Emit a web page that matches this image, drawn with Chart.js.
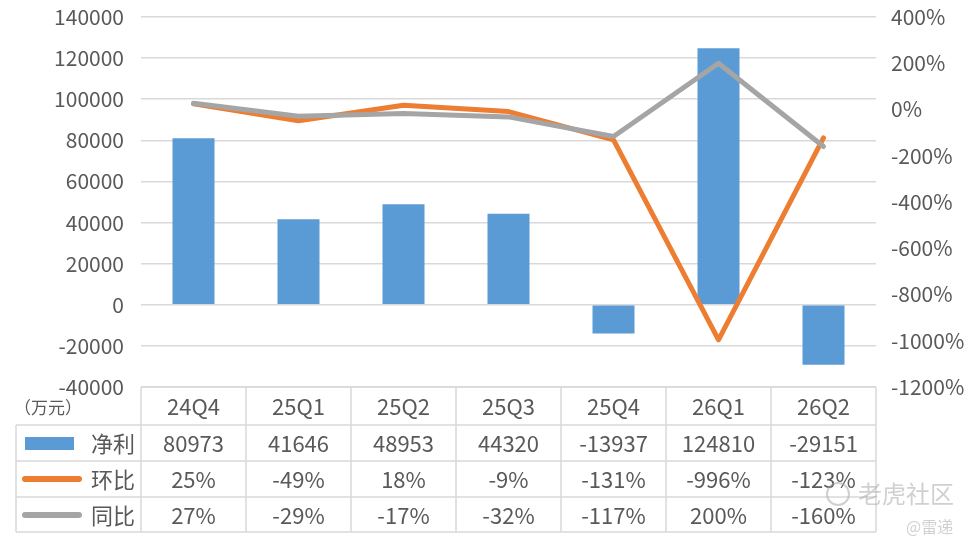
<!DOCTYPE html>
<html>
<head>
<meta charset="utf-8">
<script src="https://cdn.jsdelivr.net/npm/chart.js@4/dist/chart.umd.min.js"></script>
<style>
html,body{margin:0;padding:0;background:#fff;}
#wrap{position:relative;width:974px;height:552px;}
</style>
</head>
<body>
<div id="wrap"><canvas id="c" width="974" height="552"></canvas></div>
<script>
const categories = ['24Q4','25Q1','25Q2','25Q3','25Q4','26Q1','26Q2'];
const netProfit = [80973, 41646, 48953, 44320, -13937, 124810, -29151];
const qoq = [25, -49, 18, -9, -131, -996, -123];
const yoy = [27, -29, -17, -32, -117, 200, -160];
const seriesNames = ['净利', '环比', '同比'];
const unitLabel = '（万元）';
const leftTicks = {min: -40000, max: 140000, step: 20000};
const rightTicks = {min: -1200, max: 400, step: 200};

const FONT = '"Noto Sans CJK SC", "Noto Sans", sans-serif';
const BLUE = '#5B9BD5', ORANGE = '#ED7D31', GRAY = '#A5A5A5';
const TXT = '#595959', GRID = '#D9D9D9';

const tablePlugin = {
  id: 'dataTable',
  afterDraw(chart) {
    const ctx = chart.ctx;
    const x = chart.scales.x;
    const area = chart.chartArea;
    const colW = (area.right - area.left) / categories.length;
    const top = area.bottom;
    const rowTops = [top, 425, 461, 497, 532];
    const legendLeft = 16;
    ctx.save();
    ctx.strokeStyle = GRID;
    ctx.lineWidth = 1.5;
    ctx.beginPath();
    ctx.moveTo(area.left, rowTops[0]); ctx.lineTo(area.right, rowTops[0]);
    for (let r = 1; r < rowTops.length; r++) {
      ctx.moveTo(legendLeft, rowTops[r]); ctx.lineTo(area.right, rowTops[r]);
    }
    ctx.moveTo(legendLeft, rowTops[1]); ctx.lineTo(legendLeft, rowTops[4]);
    for (let i = 0; i <= categories.length; i++) {
      const px = area.left + i * colW;
      ctx.moveTo(px, rowTops[0]); ctx.lineTo(px, rowTops[4]);
    }
    ctx.stroke();

    ctx.fillStyle = TXT;
    ctx.textAlign = 'center';
    ctx.textBaseline = 'middle';
    ctx.font = '22px ' + FONT;
    const rows = [categories, netProfit.map(String), qoq.map(v => v + '%'), yoy.map(v => v + '%')];
    rows.forEach((row, r) => {
      const cy = (rowTops[r] + rowTops[r + 1]) / 2 + 1;
      row.forEach((t, i) => {
        ctx.fillText(t, x.getPixelForValue(i), cy);
      });
    });
    ctx.font = '17px ' + FONT;
    ctx.textAlign = 'left';
    ctx.fillText(unitLabel, 14, 408);
    ctx.fillStyle = BLUE;
    ctx.fillRect(25, 437, 49, 13);
    ctx.lineCap = 'round';
    ctx.lineWidth = 6;
    ctx.strokeStyle = ORANGE;
    ctx.beginPath(); ctx.moveTo(25, 479); ctx.lineTo(79, 479); ctx.stroke();
    ctx.strokeStyle = GRAY;
    ctx.beginPath(); ctx.moveTo(25, 515); ctx.lineTo(79, 515); ctx.stroke();
    ctx.fillStyle = TXT;
    ctx.font = '22px ' + FONT;
    ctx.textAlign = 'right';
    seriesNames.forEach((n, k) => {
      ctx.fillText(n, 135, (rowTops[k + 1] + rowTops[k + 2]) / 2 + 1);
    });
    ctx.fillStyle = 'rgba(170,170,170,0.55)';
    ctx.font = '24px ' + FONT;
    ctx.textAlign = 'left';
    ctx.fillText('老虎社区', 858, 494);
    ctx.font = '16px ' + FONT;
    ctx.fillText('@雷递', 906, 527);
    ctx.strokeStyle = 'rgba(170,170,170,0.55)';
    ctx.lineWidth = 2;
    ctx.beginPath(); ctx.arc(838, 494, 11, 0, Math.PI * 2); ctx.stroke();
    ctx.restore();
  }
};

function fixPad(width) {
  return function(s) { s.width = width; s.paddingTop = 4; s.paddingBottom = 4; };
}

new Chart(document.getElementById('c'), {
  data: {
    labels: categories,
    datasets: [
      {type: 'line', label: seriesNames[2], data: yoy, yAxisID: 'y2', borderColor: GRAY, borderWidth: 5,
       pointRadius: 0, tension: 0, borderCapStyle: 'round', borderJoinStyle: 'round', order: 0},
      {type: 'line', label: seriesNames[1], data: qoq, yAxisID: 'y2', borderColor: ORANGE, borderWidth: 5,
       pointRadius: 0, tension: 0, borderCapStyle: 'round', borderJoinStyle: 'round', order: 1},
      {type: 'bar', label: seriesNames[0], data: netProfit, yAxisID: 'y', backgroundColor: BLUE,
       barPercentage: 0.4, categoryPercentage: 1, order: 2}
    ]
  },
  options: {
    responsive: false,
    animation: false,
    devicePixelRatio: 1,
    layout: {padding: {top: 17, bottom: 165, left: 0, right: 0}},
    plugins: {legend: {display: false}, tooltip: {enabled: false}},
    scales: {
      x: {display: false, offset: true, grid: {display: false}},
      y: {
        position: 'left', min: leftTicks.min, max: leftTicks.max,
        afterFit: fixPad(141),
        border: {display: false},
        grid: {color: GRID, lineWidth: 1.5, drawTicks: false},
        ticks: {stepSize: leftTicks.step, color: TXT, padding: 17, font: {family: FONT, size: 21},
                callback: v => String(v)}
      },
      y2: {
        position: 'right', min: rightTicks.min, max: rightTicks.max,
        afterFit: fixPad(98),
        border: {display: false},
        grid: {display: false, drawTicks: false},
        ticks: {stepSize: rightTicks.step, color: TXT, padding: 15, font: {family: FONT, size: 21},
                callback: v => v + '%'}
      }
    }
  },
  plugins: [tablePlugin]
});
</script>
</body>
</html>
